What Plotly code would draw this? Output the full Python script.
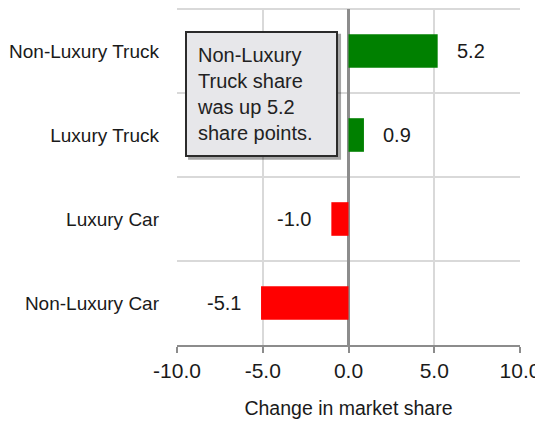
import plotly.graph_objects as go

categories = ["Non-Luxury Car", "Luxury Car", "Luxury Truck", "Non-Luxury Truck"]
values = [-5.1, -1.0, 0.9, 5.2]
colors = ["#ff0000", "#ff0000", "#008000", "#008000"]
x_ticks = [-10, -5, 0, 5, 10]
x_tick_labels = ["-10.0", "-5.0", "0.0", "5.0", "10.0"]
note_text = "Non-Luxury<br>Truck share<br>was up 5.2<br>share points."

FONT = "Liberation Sans, Arial, sans-serif"
GRID = "#d9d9d9"
AXIS = "#8c8c8c"
ypos = list(range(len(categories)))

fig = go.Figure()
fig.add_trace(go.Bar(
    x=values, y=ypos, orientation="h", width=0.4,
    marker=dict(color=colors, line=dict(width=0)),
    hoverinfo="skip",
))

for v, y in zip(values, ypos):
    fig.add_annotation(
        x=v, y=y, xref="x", yref="y", text=f"{v:.1f}", showarrow=False,
        xanchor="left" if v >= 0 else "right",
        xshift=17 if v >= 0 else -18,
        font=dict(family=FONT, size=20, color="#1a1a1a"),
    )

# top border line of the plot area
fig.add_shape(type="line", xref="paper", yref="paper", x0=0, x1=1, y0=1, y1=1,
              line=dict(color=GRID, width=2), layer="below")

# drop shadow of the note box
note_x, note_y = -9.53, 3.24
fig.add_shape(type="rect", xref="x", yref="y", xsizemode="pixel", ysizemode="pixel",
              xanchor=note_x, yanchor=note_y,
              x0=3, x1=156, y0=-129, y1=-3,
              fillcolor="rgba(0,0,0,0.35)", line=dict(width=0), layer="above")

fig.add_annotation(
    x=note_x, y=note_y, xref="x", yref="y", xanchor="left", yanchor="top",
    text=note_text, showarrow=False, align="left", valign="middle",
    width=129, height=102,
    font=dict(family=FONT, size=20, color="#222222"),
    bgcolor="#e7e7ea", bordercolor="#2b2b2b", borderwidth=2, borderpad=10,
)

# the page body adds an 8px margin, so the figure is 8px smaller than the window
fig.update_layout(
    width=535, height=415,
    margin=dict(l=169, r=23, t=1, b=78),
    paper_bgcolor="white", plot_bgcolor="white",
    showlegend=False,
    font=dict(family=FONT, size=19, color="#1a1a1a"),
    xaxis=dict(
        range=[-10, 10], tickvals=x_ticks, ticktext=x_tick_labels,
        automargin=False,
        showgrid=True, gridcolor=GRID, gridwidth=2,
        zeroline=True, zerolinecolor=AXIS, zerolinewidth=2.5,
        showline=True, linecolor=AXIS, linewidth=2,
        ticks="outside", ticklen=6, tickcolor=AXIS, tickwidth=2,
        title=dict(text="Change in market share", font=dict(family=FONT, size=19.5), standoff=20),
        tickfont=dict(family=FONT, size=21, color="#1a1a1a"),
    ),
    yaxis=dict(
        range=[-0.5, 3.5], tickvals=ypos, ticktext=categories,
        automargin=False,
        showgrid=False, zeroline=False, showline=False, ticks="",
        ticklabelstandoff=17,
        minor=dict(tick0=0.5, dtick=1, showgrid=True, gridcolor=GRID, gridwidth=2),
        tickfont=dict(family=FONT, size=19, color="#1a1a1a"),
    ),
)

fig.write_html("out.html")
